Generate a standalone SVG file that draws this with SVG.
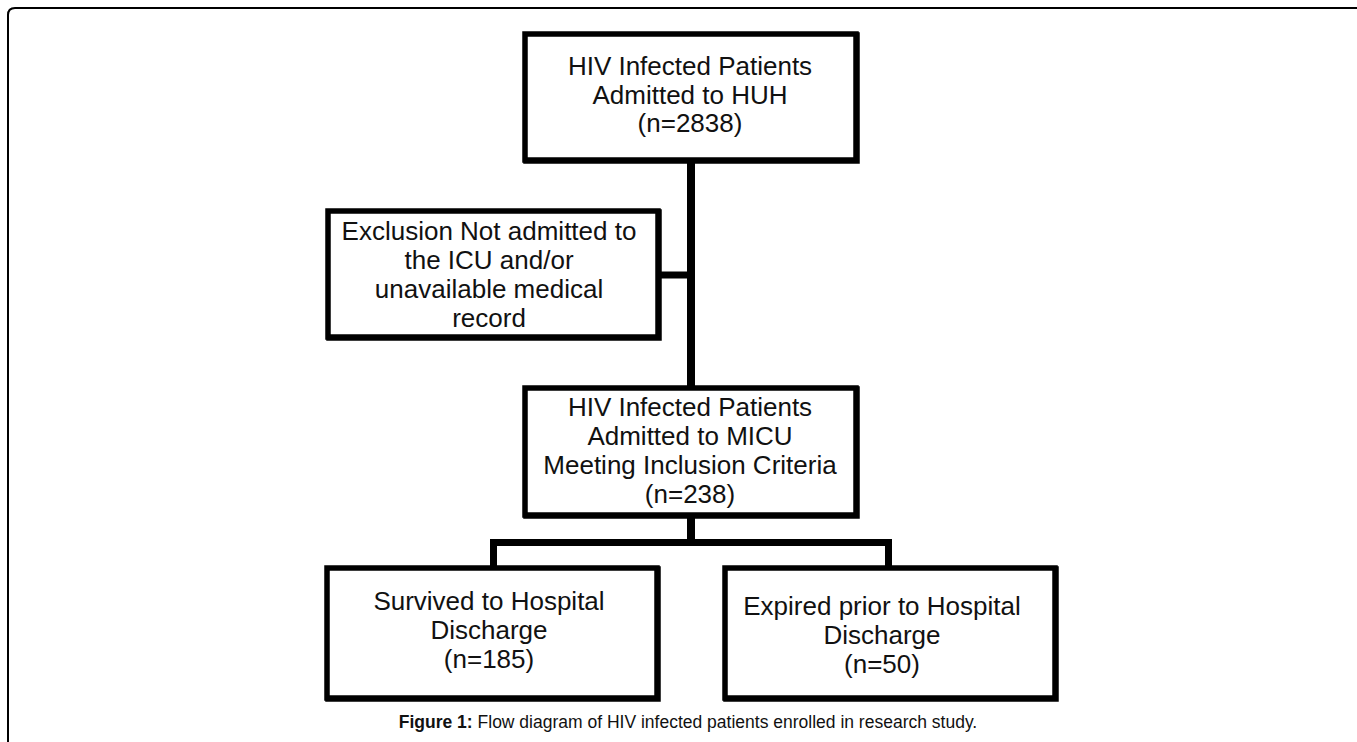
<svg xmlns="http://www.w3.org/2000/svg" width="1357" height="742" viewBox="0 0 1357 742">
<style>
.box{fill:#fff;stroke:#000;stroke-width:5.5}
.sh{fill:none;stroke:#000;stroke-width:5.5}
.t{font-family:"Liberation Sans",Arial,sans-serif;font-size:26px;fill:#111;text-anchor:middle}
.c{stroke:#000;fill:none;stroke-width:7}
.cap{font-family:"Liberation Sans",Arial,sans-serif;font-size:17.5px;fill:#111;text-anchor:middle}
</style>
<rect width="1357" height="742" fill="#fff"/>
<path d="M8,742 V15 Q8,8 15,8 H1357" fill="none" stroke="#000" stroke-width="2"/>
<g id="connectors">
<line class="c" x1="691" y1="160" x2="691" y2="388" style="stroke-width:8"/>
<line class="c" x1="658" y1="275" x2="691" y2="275"/>
<line class="c" x1="691" y1="515" x2="691" y2="542.5" style="stroke-width:8"/>
<line class="c" x1="490" y1="542.5" x2="892" y2="542.5"/>
<line class="c" x1="493.5" y1="539" x2="493.5" y2="568"/>
<line class="c" x1="888.5" y1="539" x2="888.5" y2="568"/>
</g>
<g id="n1">
<rect class="sh" x="526" y="35" width="331" height="126"/>
<rect class="box" x="525" y="34" width="331" height="126"/>
<text class="t" x="690" y="75">HIV Infected Patients</text>
<text class="t" x="690" y="104">Admitted to HUH</text>
<text class="t" x="690" y="132">(n=2838)</text>
</g>
<g id="n2">
<rect class="sh" x="329" y="212" width="330" height="126"/>
<rect class="box" x="328" y="211" width="330" height="126"/>
<text class="t" x="489" y="240">Exclusion Not admitted to</text>
<text class="t" x="489" y="269">the ICU and/or</text>
<text class="t" x="489" y="298">unavailable medical</text>
<text class="t" x="489" y="327">record</text>
</g>
<g id="n3">
<rect class="sh" x="526" y="389" width="331" height="127"/>
<rect class="box" x="525" y="388" width="331" height="127"/>
<text class="t" x="690" y="416">HIV Infected Patients</text>
<text class="t" x="690" y="445">Admitted to MICU</text>
<text class="t" x="690" y="474">Meeting Inclusion Criteria</text>
<text class="t" x="690" y="503">(n=238)</text>
</g>
<g id="n4">
<rect class="sh" x="328" y="569" width="330" height="130"/>
<rect class="box" x="327" y="568" width="330" height="130"/>
<text class="t" x="489" y="610">Survived to Hospital</text>
<text class="t" x="489" y="639">Discharge</text>
<text class="t" x="489" y="668">(n=185)</text>
</g>
<g id="n5">
<rect class="sh" x="726" y="569" width="330" height="130"/>
<rect class="box" x="725" y="568" width="330" height="130"/>
<text class="t" x="882" y="615">Expired prior to Hospital</text>
<text class="t" x="882" y="644">Discharge</text>
<text class="t" x="882" y="673">(n=50)</text>
</g>
<text class="cap" x="688" y="728"><tspan font-weight="bold">Figure 1:</tspan> Flow diagram of HIV infected patients enrolled in research study.</text>
</svg>
